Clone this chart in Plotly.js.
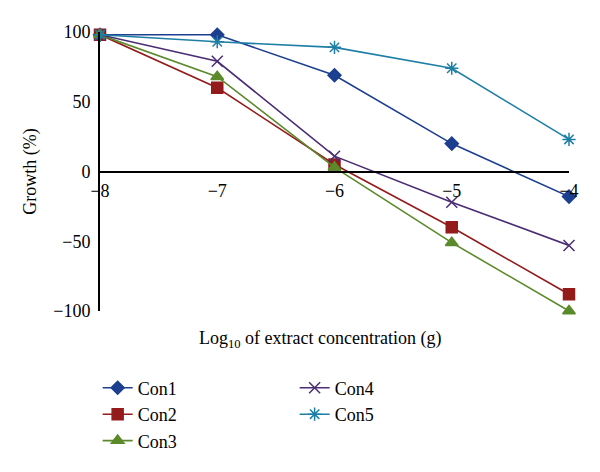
<!DOCTYPE html>
<html>
<head>
<meta charset="utf-8">
<script src="https://cdn.plot.ly/plotly-3.0.1.min.js"></script>
<style>html,body{margin:0;padding:0;background:#fff;}#chart{width:600px;height:472px;}</style>
</head>
<body>
<div id="chart"></div>
<script>
const xValues = [-8, -7, -6, -5, -4];
const seriesNames = ["Con1", "Con2", "Con3", "Con4", "Con5"];
const con1 = [98, 98, 69, 20, -18];
const con2 = [98, 60, 5, -40, -88];
const con3 = [98, 68, 3, -51, -100];
const con4 = [98, 79, 11, -22, -53];
const con5 = [98, 93, 89, 74, 23];
const yTicks = [-100, -50, 0, 50, 100];
const xTicks = [-8, -7, -6, -5, -4];

const colors = ["#1c3f8f", "#941b1b", "#5b8a2b", "#4a2d74", "#1e7fa6"];
const symbols = ["diamond", "square", "triangle-up", "x-thin-open", "asterisk-open"];
const sizes = [10, 11, 11, 11, 11];
const legends = ["legend", "legend", "legend", "legend2", "legend2"];
const allSeries = [con1, con2, con3, con4, con5];

const traces = allSeries.map((ys, i) => ({
  x: xValues, y: ys, name: seriesNames[i], type: "scatter", mode: "lines+markers",
  line: {color: colors[i], width: 1.6},
  marker: {symbol: symbols[i], size: sizes[i], color: colors[i], line: {color: colors[i], width: 1.5}},
  cliponaxis: false, legend: legends[i]
}));

const font = "'Liberation Serif', 'DejaVu Serif', serif";
const layout = {
  width: 600, height: 472,
  margin: {l: 100, r: 31, t: 32, b: 157},
  paper_bgcolor: "#fff", plot_bgcolor: "#fff",
  font: {family: font, size: 18, color: "#000"},
  showlegend: true,
  xaxis: {
    range: [-8, -4], tickvals: xTicks, showgrid: false, zeroline: false,
    anchor: "free", position: 0.5, showline: true, linecolor: "#000", linewidth: 2,
    ticks: "", tickfont: {family: font, size: 18}, ticklabelstandoff: 3
  },
  yaxis: {
    range: [-100, 100], tickvals: yTicks, showgrid: false, zeroline: false,
    showline: true, linecolor: "#000", linewidth: 2, ticks: "", ticklen: 0,
    tickfont: {family: font, size: 18}, ticklabelstandoff: 4,
    title: {text: "Growth (%)", font: {family: font, size: 18}, standoff: 12}
  },
  annotations: [{
    text: "Log<sub>10</sub> of extract concentration (g)", xref: "paper", yref: "paper",
    x: 0.471, y: -0.055, xanchor: "center", yanchor: "top", showarrow: false,
    font: {family: font, size: 18}
  }],
  legend: {x: -0.005, y: -0.21, xanchor: "left", yanchor: "top", orientation: "v",
    font: {family: font, size: 18}, bgcolor: "rgba(0,0,0,0)", tracegroupgap: 0},
  legend2: {x: 0.415, y: -0.21, xanchor: "left", yanchor: "top", orientation: "v",
    font: {family: font, size: 18}, bgcolor: "rgba(0,0,0,0)", tracegroupgap: 0}
};

Plotly.newPlot("chart", traces, layout, {displayModeBar: false, staticPlot: true});
</script>
</body>
</html>
